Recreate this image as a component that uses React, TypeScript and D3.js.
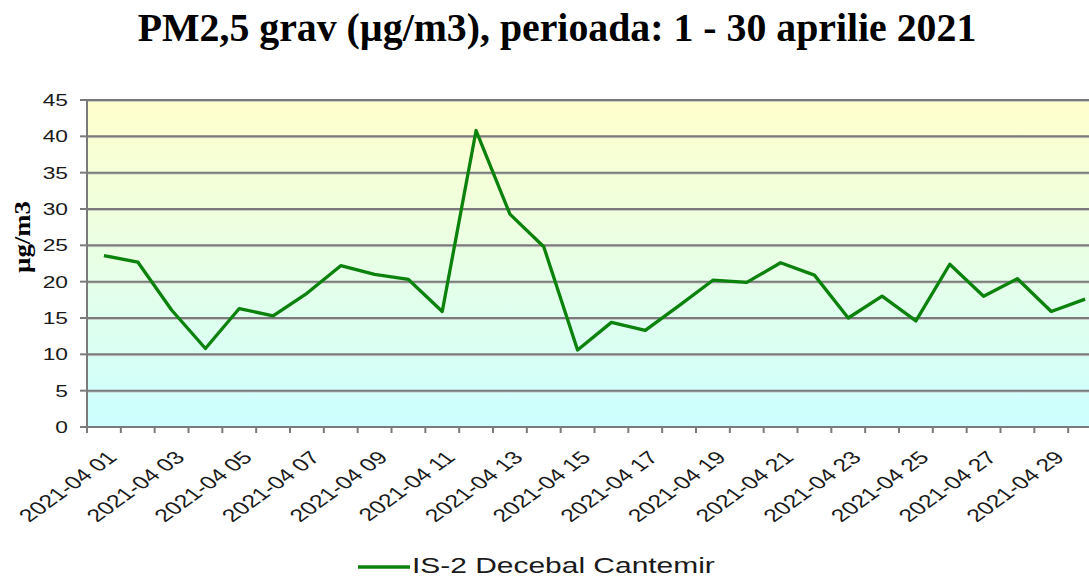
import React from "react";
import * as d3 from "d3";

const days: number[] = Array.from({ length: 30 }, (_, i) => i + 1);
const values: number[] = [
  23.6, 22.7, 16.1, 10.8, 16.3, 15.3, 18.4, 22.2, 21.0, 20.3,
  15.9, 40.8, 29.3, 24.8, 10.6, 14.4, 13.3, 16.7, 20.2, 19.9,
  22.6, 20.9, 15.0, 18.0, 14.6, 22.4, 18.0, 20.4, 15.9, 17.6,
];
const yTicks: number[] = [0, 5, 10, 15, 20, 25, 30, 35, 40, 45];
const labelDays: number[] = days.filter((d) => d % 2 === 1);
const seriesName = "IS-2 Decebal Cantemir";
const title = "PM2,5 grav (µg/m3), perioada: 1 - 30 aprilie 2021";
const yTitle = "µg/m3";

const fmtDay = (d: number) => `2021-04 ${d < 10 ? "0" + d : d}`;

export default function App() {
  const W = 1089;
  const H = 578;
  const left = 87;
  const right = 1102;
  const top = 100;
  const bottom = 427;
  const sx = 1.38;
  const green = "#0b820b";
  const grid = "#7a7a7a";
  const textCol = "#1a1a1a";

  const x = d3.scaleBand<number>().domain(days).range([left, right]).paddingInner(0).paddingOuter(0);
  const y = d3.scaleLinear().domain([0, 45]).range([bottom, top]);
  const cx = (d: number) => (x(d) as number) + x.bandwidth() / 2;

  const line = d3
    .line<number>()
    .x((_, i) => cx(days[i]))
    .y((v) => y(v));

  const boundaries = d3.range(0, days.length + 1).map((i) => left + i * x.bandwidth());

  return (
    <svg
      width={W}
      height={H}
      style={{ position: "absolute", left: 0, top: 0, background: "#fff" }}
    >
      <defs>
        <linearGradient id="bg" x1="0" y1="0" x2="0" y2="1">
          <stop offset="0%" stopColor="#ffffcc" />
          <stop offset="50%" stopColor="#e8ffe6" />
          <stop offset="100%" stopColor="#ccffff" />
        </linearGradient>
        <clipPath id="crop">
          <rect x={0} y={0} width={W} height={H} />
        </clipPath>
      </defs>

      <text
        x={557}
        y={41}
        textAnchor="middle"
        fontFamily="'Liberation Serif', 'Times New Roman', serif"
        fontWeight="bold"
        fontSize={39.8}
        fill="#000"
      >
        {title}
      </text>

      <g clipPath="url(#crop)">
        <rect x={left} y={top} width={right - left} height={bottom - top} fill="url(#bg)" />

        {yTicks.filter((t) => t > 0).map((t) => (
          <g key={"g" + t}>
            <line x1={left} x2={right} y1={y(t) + 1.3} y2={y(t) + 1.3} stroke="#c0c0c0" strokeWidth={1} />
            <line x1={left} x2={right} y1={y(t)} y2={y(t)} stroke={grid} strokeWidth={2} />
          </g>
        ))}

        <path d={line(values) || ""} fill="none" stroke={green} strokeWidth={3.3} strokeLinejoin="round" />

        <line x1={left} x2={right} y1={bottom} y2={bottom} stroke={grid} strokeWidth={2} />
        <line x1={left} x2={left} y1={top} y2={bottom} stroke={grid} strokeWidth={2} />

        {yTicks.map((t) => (
          <line key={"yt" + t} x1={80} x2={left} y1={y(t)} y2={y(t)} stroke={grid} strokeWidth={2} />
        ))}
        {boundaries.map((bx, i) => (
          <line key={"xt" + i} x1={bx} x2={bx} y1={bottom} y2={bottom + 6} stroke={grid} strokeWidth={2} />
        ))}
      </g>

      {yTicks.map((t) => (
        <g key={"yl" + t} transform={`translate(68,${y(t)}) scale(${sx},1)`}>
          <text
            textAnchor="end"
            dy="0.36em"
            fontFamily="'Liberation Sans', Arial, sans-serif"
            fontSize={16.5}
            fill={textCol}
          >
            {t}
          </text>
        </g>
      ))}

      {labelDays.map((d) => (
        <g key={"xl" + d} transform={`translate(${cx(d) + 8},454) scale(${sx},1) rotate(-45)`}>
          <text
            textAnchor="end"
            dy="0.36em"
            fontFamily="'Liberation Sans', Arial, sans-serif"
            fontSize={18}
            fill={textCol}
          >
            {fmtDay(d)}
          </text>
        </g>
      ))}

      <g transform="translate(30,237) rotate(-90)">
        <text
          textAnchor="middle"
          fontFamily="'Liberation Serif', 'Times New Roman', serif"
          fontWeight="bold"
          fontSize={23}
          textLength={72}
          lengthAdjust="spacingAndGlyphs"
          fill="#000"
        >
          {yTitle}
        </text>
      </g>

      <line x1={358} x2={410} y1={567} y2={567} stroke={green} strokeWidth={3.5} />
      <g transform={`translate(412,573) scale(${sx},1)`}>
        <text fontFamily="'Liberation Sans', Arial, sans-serif" fontSize={21.7} fill={textCol}>
          {seriesName}
        </text>
      </g>
    </svg>
  );
}
